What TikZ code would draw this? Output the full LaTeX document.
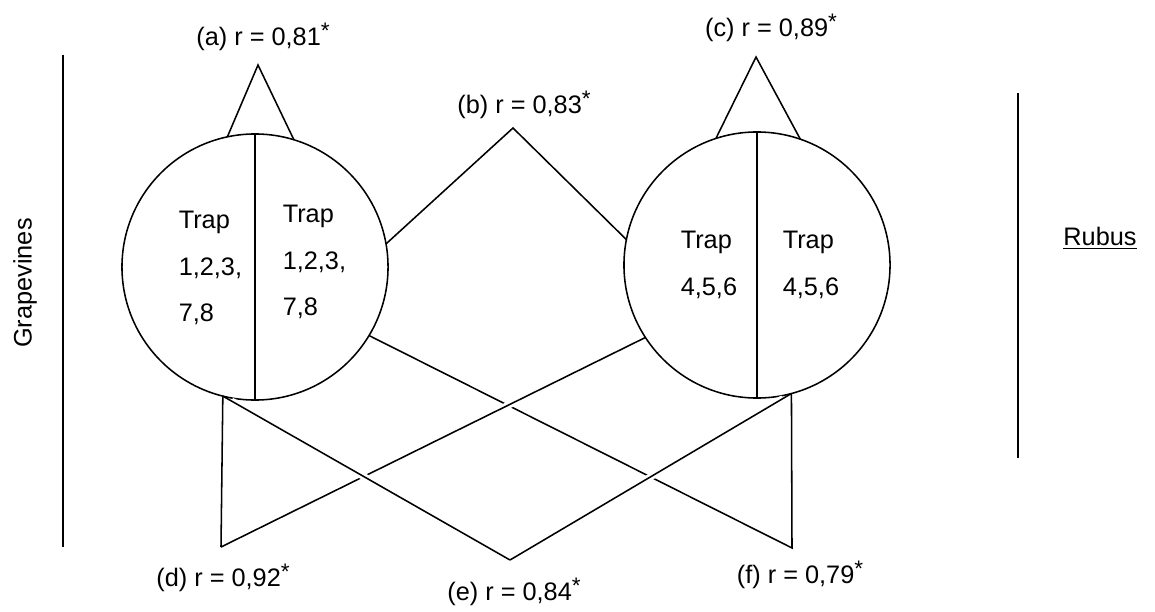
\documentclass[tikz,border=0pt]{standalone}
\usepackage{fontspec}
\setmainfont{Liberation Sans}
\newcommand{\sig}{\raisebox{0.25em}{\fontsize{16}{16}\selectfont *}}
\begin{document}
\begin{tikzpicture}[x=0.025cm,y=-0.025cm,
    line width=1.1pt,
    trapcircle/.style={draw,circle,inner sep=0pt,outer sep=0pt,minimum size=6.65cm},
    lbl/.style={font=\fontsize{18}{22}\selectfont,inner sep=0pt},
    traptext/.style={font=\fontsize{18}{33}\selectfont,align=left,anchor=west,inner sep=0pt},
    over/.style={preaction={draw,white,line width=5pt,shorten <=7pt,shorten >=7pt}}]
    % page frame
    \useasboundingbox (0,0) rectangle (1155,611);

    % habitat bars
    \draw (63,55) -- (63,547);
    \draw (1018,93) -- (1018,458);
    \node[lbl,rotate=90] (grape) at (25,283) {Grapevines};
    \node[lbl] (rubus) at (1100,238) {\underline{Rubus}};

    % trap groups
    \node[trapcircle] (L) at (255,267) {};
    \node[trapcircle] (R) at (757,265) {};
    \draw (L.north) -- (L.south);
    \draw (R.north) -- (R.south);
    \node[traptext] (l1) at (178,268) {Trap\\1,2,3,\\7,8};
    \node[traptext] (l2) at (282,262) {Trap\\1,2,3,\\7,8};
    \node[traptext] (r1) at (680,265) {Trap\\4,5,6};
    \node[traptext] (r2) at (782,265) {Trap\\4,5,6};

    % apex points
    \coordinate (a) at (258,65);
    \coordinate (b) at (513,128);
    \coordinate (c) at (756,57);
    \coordinate (d) at (221,547);
    \coordinate (e) at (510,560);
    \coordinate (f) at (792,548);

    % correlations
    \draw (L.102.5) -- (a) -- (L.73);
    \draw (R.108) -- (c) -- (R.71.4);
    \draw (L.10) -- (b) -- (R.169);
    \draw (L.-31) -- (f) -- (R.-75);
    \draw (L.-104) -- (d);
    \draw[over] (d) -- (R.-147);
    \draw[over] (L.-104) -- (e);
    \draw[over] (e) -- (R.-75);

    % r values
    \node[lbl] (la) at (263,37) {(a) r = 0,81\sig};
    \node[lbl] (lb) at (524,105) {(b) r = 0,83\sig};
    \node[lbl] (lc) at (771,28) {(c) r = 0,89\sig};
    \node[lbl] (ld) at (223,578) {(d) r = 0,92\sig};
    \node[lbl] (le) at (514,592) {(e) r = 0,84\sig};
    \node[lbl] (lf) at (800,575) {(f) r = 0,79\sig};
\end{tikzpicture}
\end{document}
